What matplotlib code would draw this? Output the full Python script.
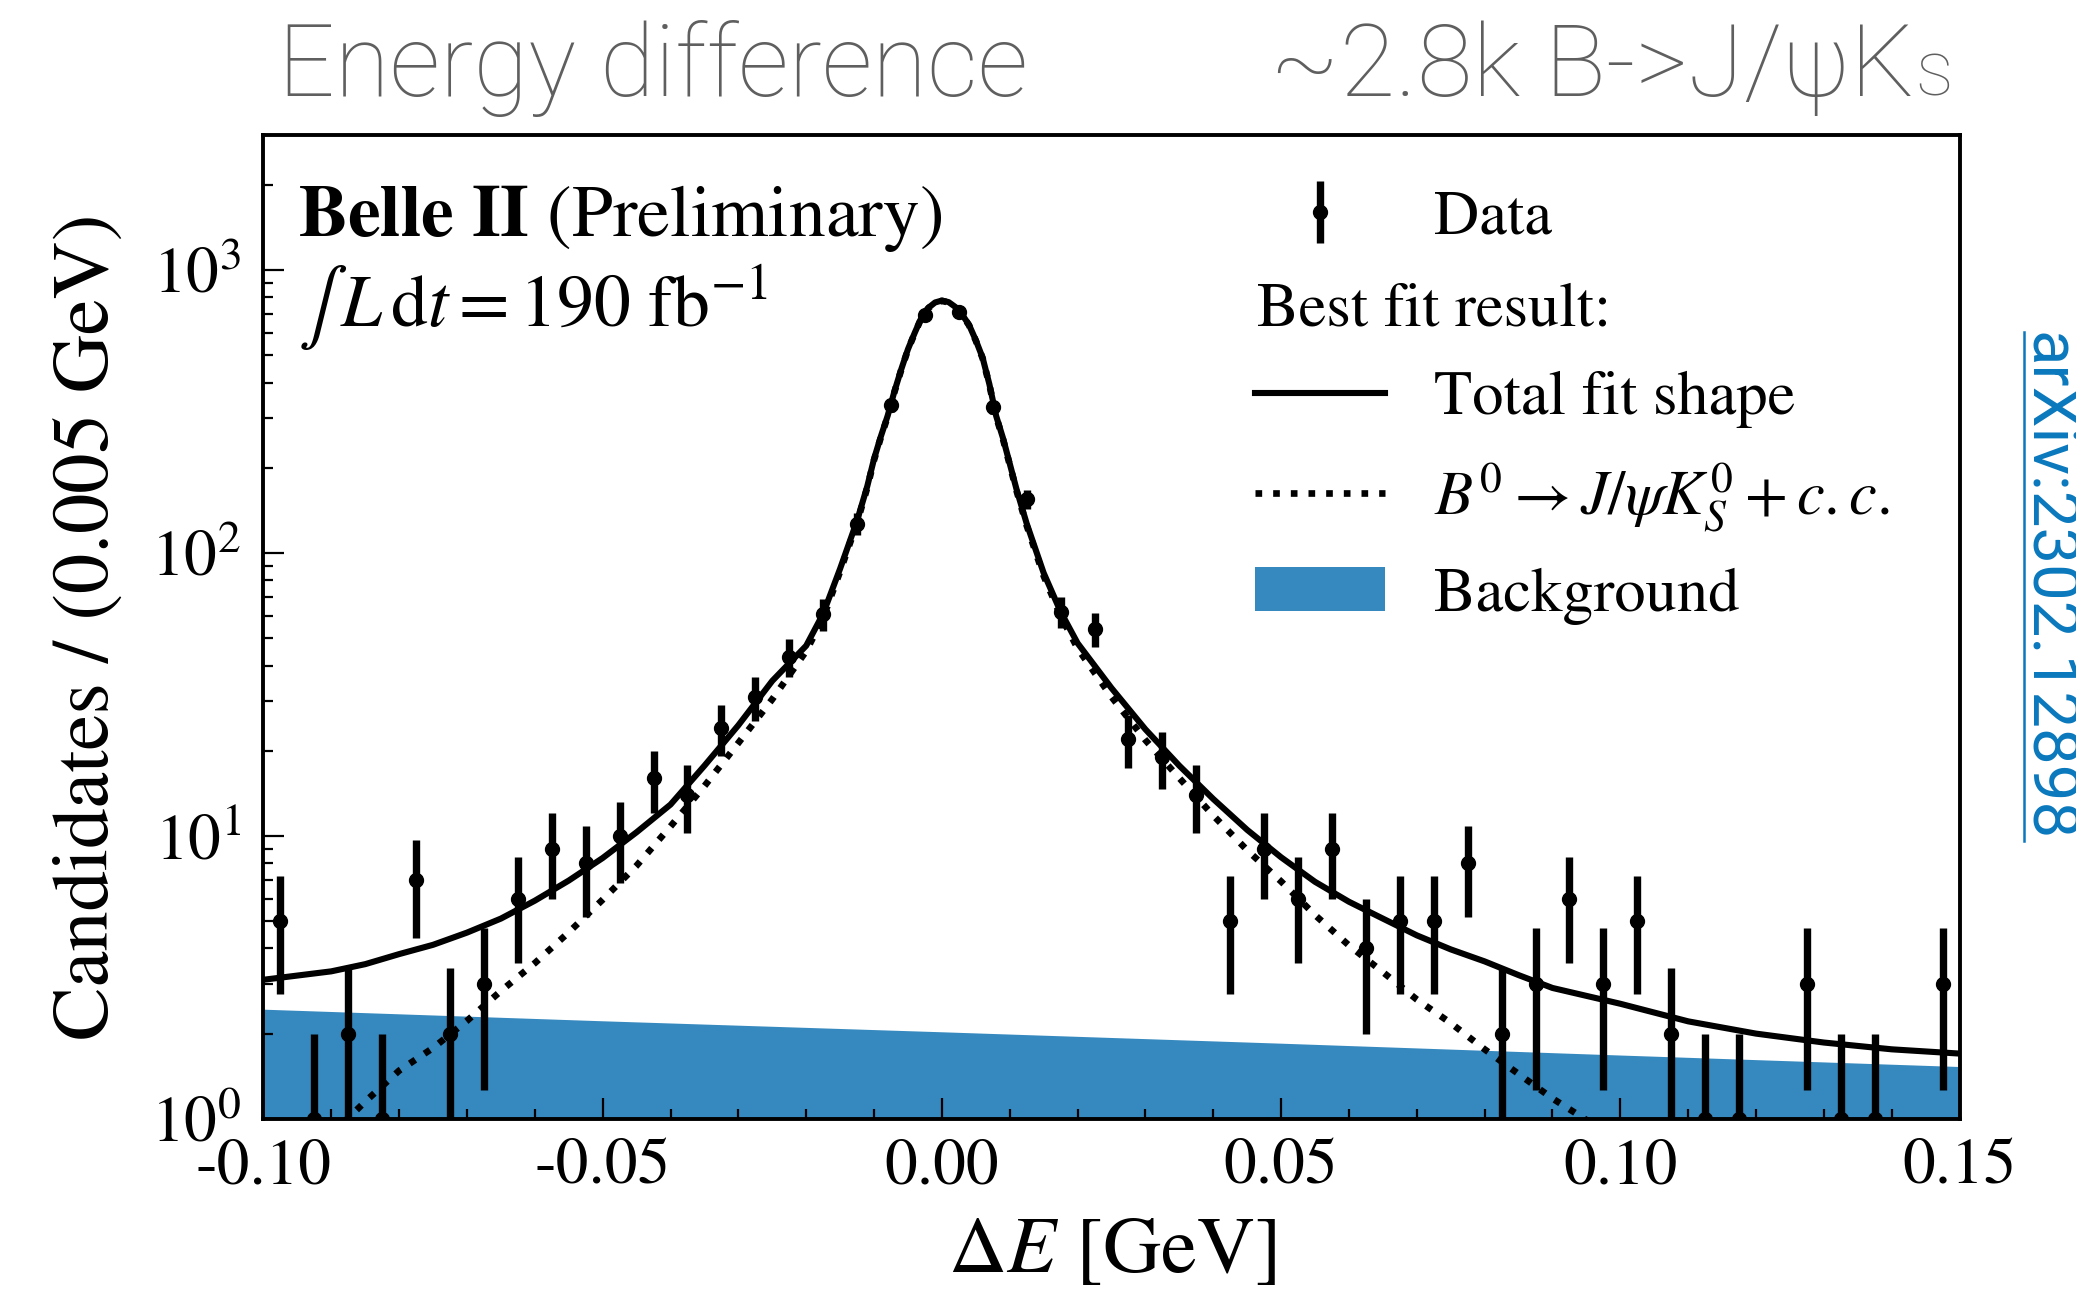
import numpy as np
import matplotlib
matplotlib.use("Agg")
import matplotlib.pyplot as plt
from matplotlib.lines import Line2D
from matplotlib.patches import Patch

plt.rcParams["font.family"] = "STIXGeneral"
plt.rcParams["mathtext.fontset"] = "stix"

BLUE = "#3689bf"
GREY = "#5f5f5f"
LINK = "#0a78bd"
SANS = ["Roboto", "DejaVu Sans"]

# Delta E histogram: 50 bins of 0.005 GeV between -0.10 and 0.15 GeV
de_lo, de_hi, de_width = -0.10, 0.15, 0.005
counts = [5, 1, 2, 1, 7, 2, 3, 6, 9, 8,
          10, 16, 14, 24, 31, 43, 61, 127, 333, 694,
          708, 327, 155, 62, 54, 22, 19, 14, 5, 9,
          6, 9, 4, 5, 5, 8, 2, 3, 6, 3,
          5, 2, 1, 1, 0, 3, 1, 1, 0, 3]

# fitted curves, candidates per bin
fit_x = [-0.100, -0.090, -0.085, -0.080, -0.075, -0.070, -0.065, -0.060,
         -0.055, -0.050, -0.045, -0.040, -0.035, -0.030, -0.025, -0.020,
         -0.0175, -0.015, -0.0125, -0.011, -0.010, -0.009, -0.008, -0.007,
         -0.006, -0.005, -0.004, -0.003, -0.002, -0.001, 0.000, 0.001,
         0.002, 0.003, 0.004, 0.005, 0.006, 0.007, 0.008, 0.009,
         0.010, 0.011, 0.0125, 0.015, 0.0175, 0.020, 0.025, 0.030,
         0.035, 0.040, 0.045, 0.050, 0.055, 0.060, 0.065, 0.070,
         0.075, 0.080, 0.085, 0.090, 0.100, 0.110, 0.120, 0.130,
         0.140, 0.150]
total_fit = [3.10, 3.32, 3.52, 3.82, 4.12, 4.55, 5.10, 5.90,
             6.95, 8.35, 10.3, 12.9, 17.7, 24.6, 35.3, 47.0,
             61.0, 88.0, 130.0, 172.0, 215.0, 258.0, 305.0, 372.0,
             445.0, 525.0, 600.0, 680.0, 735.0, 768.0, 780.0, 770.0,
             740.0, 695.0, 640.0, 565.0, 490.0, 395.0, 305.0, 255.0,
             207.0, 168.0, 127.0, 85.0, 62.0, 48.0, 33.3, 23.8,
             17.7, 13.5, 10.5, 8.4, 6.88, 5.85, 5.10, 4.45,
             3.97, 3.60, 3.22, 2.90, 2.55, 2.21, 2.00, 1.86,
             1.76, 1.70]

sig_x = [-0.090, -0.085, -0.080, -0.075, -0.070, -0.065, -0.060, -0.055,
         -0.050, -0.045, -0.040, -0.035, -0.030, -0.025, -0.020, -0.0175,
         -0.015, -0.0125, -0.011, -0.010, -0.009, -0.008, -0.007, -0.006,
         -0.005, -0.004, -0.003, -0.002, -0.001, 0.000, 0.001, 0.002,
         0.003, 0.004, 0.005, 0.006, 0.007, 0.008, 0.009, 0.010,
         0.011, 0.0125, 0.015, 0.0175, 0.020, 0.025, 0.030, 0.035,
         0.040, 0.045, 0.050, 0.055, 0.060, 0.065, 0.070, 0.075,
         0.080, 0.085, 0.090, 0.095, 0.098]
signal_fit = [0.88, 1.15, 1.48, 1.78, 2.22, 2.83, 3.55, 4.56,
              5.95, 7.85, 10.8, 15.0, 21.3, 30.4, 45.0, 59.0,
              86.0, 128.0, 170.0, 213.0, 256.0, 303.0, 370.0, 443.0,
              523.0, 598.0, 678.0, 733.0, 766.0, 778.0, 768.0, 738.0,
              693.0, 638.0, 563.0, 488.0, 393.0, 303.0, 253.0, 205.0,
              166.0, 125.0, 83.0, 60.0, 46.0, 31.0, 21.8, 16.0,
              11.8, 8.9, 6.9, 5.25, 4.10, 3.30, 2.64, 2.18,
              1.76, 1.44, 1.18, 0.99, 0.90]

bkg_x = [-0.10, -0.05, 0.00, 0.05, 0.10, 0.15]
bkg_fit = [2.44, 2.22, 2.03, 1.85, 1.68, 1.53]

n = np.array(counts, dtype=float)
centers = de_lo + de_width * (np.arange(len(n)) + 0.5)
has = n > 0
err_lo = np.minimum(np.sqrt(n[has]), n[has] - 1e-3)
err_hi = np.sqrt(n[has])

fig = plt.figure(figsize=(20.76, 12.91), dpi=100)
ax = fig.add_axes([0.1269, 0.1334, 0.817, 0.762])

ax.fill_between(bkg_x, bkg_fit, 1e-2, color=BLUE, lw=0, zorder=1)
ax.plot(fit_x, total_fit, color="k", lw=4.4, zorder=3,
        solid_joinstyle="round")
ax.plot(sig_x, signal_fit, color="k", lw=4.8, ls=":", zorder=3)
data = ax.errorbar(centers[has], n[has], yerr=[err_lo, err_hi], fmt="o",
                   color="k", ms=10, elinewidth=5.3, capsize=0, zorder=4)

ax.set_yscale("log")
ax.set_xlim(de_lo, de_hi)
ax.set_ylim(1, 3000)
ax.set_xticks([-0.10, -0.05, 0.00, 0.05, 0.10, 0.15])
ax.set_xticks(np.arange(-0.10, 0.151, 0.01), minor=True)
ax.xaxis.set_major_formatter(matplotlib.ticker.FormatStrFormatter("%.2f"))

for side in ax.spines.values():
    side.set_linewidth(2.8)
ax.tick_params(which="both", direction="in", top=False, right=False,
               labelsize=47, width=1.6)
ax.tick_params(which="major", length=15)
ax.tick_params(which="minor", length=7.5)
ax.tick_params(axis="x", pad=14)
ax.tick_params(axis="y", pad=16)

ax.set_xlabel(r"$\Delta E$ [GeV]", fontsize=58)
ax.set_ylabel("Candidates / (0.005 GeV)", fontsize=58)
ax.xaxis.set_label_coords(0.5, -0.1)
ax.yaxis.set_label_coords(-0.082, 0.5)

ax.text(0.0203, 0.897, r"$\mathbf{Belle\ II}$ (Preliminary)", fontsize=53,
        transform=ax.transAxes, va="baseline", ha="left")
ax.text(0.0203, 0.805, r"$\int\, L\,\mathrm{d}t = 190\ \mathrm{fb}^{-1}$",
        fontsize=53, transform=ax.transAxes, va="baseline", ha="left")

handles = [data, Patch(visible=False),
           Line2D([], [], color="k", lw=4.4),
           Line2D([], [], color="k", lw=4.8, ls=":"),
           Patch(color=BLUE, lw=0)]
labels = ["Data", " ", "Total fit shape",
          r"$B^0 \to J/\psi K_S^0 + c.c.$", "Background"]
leg = ax.legend(handles, labels, loc="upper left",
                bbox_to_anchor=(0.5846, 0.944), frameon=False, fontsize=45,
                handlelength=2.08, handletextpad=0.78, labelspacing=0.52,
                borderpad=0, borderaxespad=0)
ax.text(0.5855, 0.821, "Best fit result:", fontsize=45,
        transform=ax.transAxes, va="center", ha="left")

# header over the plot
fig.text(0.1339, 0.926, "Energy difference", fontsize=72, color=GREY,
         family=SANS, weight="light", va="baseline", ha="left")
head = fig.text(0.922, 0.926, "~2.8k B->J/\u03c8K", fontsize=73, color=GREY,
                family=SANS, weight="light", va="baseline", ha="right")

# arXiv reference down the right edge
ref = fig.text(2029 / 2076, 1 - 332 / 1291, "arXiv:2302.12898", fontsize=47,
               color=LINK, family=SANS, weight="normal", rotation=-90,
               rotation_mode="anchor", ha="left", va="baseline")

fig.canvas.draw()
hb = head.get_window_extent()
fig.text(hb.x1 / 2076 + 0.001, 0.926, "S", fontsize=42, color=GREY,
         family=SANS, weight="light", va="baseline", ha="left")
rb = ref.get_window_extent()
fig.add_artist(Line2D([2024 / 2076, 2024 / 2076], [rb.y0 / 1291, rb.y1 / 1291],
                      color=LINK, lw=1.8, transform=fig.transFigure))

fig.savefig("out.png", dpi=100)
